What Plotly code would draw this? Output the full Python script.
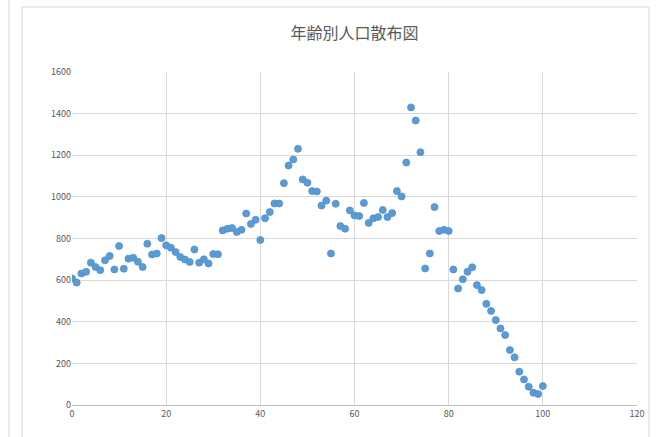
import plotly.graph_objects as go

# Population by single year of age (0-100)
ages = list(range(0, 101))
population = [
    608, 588, 632, 640, 684, 663, 648, 695, 716, 651,
    764, 655, 703, 708, 688, 663, 775, 723, 728, 802,
    767, 756, 735, 711, 699, 687, 747, 684, 700, 680,
    725, 724, 839, 847, 850, 831, 842, 920, 870, 890,
    793, 897, 927, 968, 968, 1066, 1151, 1180, 1231, 1084,
    1068, 1028, 1026, 958, 982, 728, 967, 860, 847, 935,
    911, 908, 971, 875, 897, 903, 937, 903, 922, 1028,
    1002, 1165, 1430, 1367, 1215, 656, 728, 951, 836, 842,
    836, 651, 560, 604, 640, 662, 576, 552, 486, 452,
    408, 368, 336, 264, 229, 160, 123, 88, 59, 53,
    91,
]

x_ticks = [0, 20, 40, 60, 80, 100, 120]
y_ticks = [0, 200, 400, 600, 800, 1000, 1200, 1400, 1600]
title_text = "年齢別人口散布図"

FONT = "Noto Sans CJK JP, Liberation Sans, sans-serif"
GRID = "#d9d9d9"
TEXT = "#595959"

fig = go.Figure(
    go.Scatter(
        x=ages,
        y=population,
        mode="markers",
        marker=dict(size=7, color="#5b9bd5", line=dict(width=0.8, color="#4f8fcb")),
        hoverinfo="x+y",
    )
)

fig.update_layout(
    width=659,
    height=437,
    margin=dict(l=72, r=22, t=72, b=32),
    paper_bgcolor="white",
    plot_bgcolor="white",
    showlegend=False,
    font=dict(family=FONT, color=TEXT, size=9),
    title=dict(
        text=title_text,
        x=0.5,
        xref="paper",
        y=1 - 33 / 437,
        yref="container",
        yanchor="middle",
        xanchor="center",
        font=dict(family=FONT, size=16, color=TEXT),
    ),
    xaxis=dict(
        range=[0, 120],
        tickvals=x_ticks,
        ticktext=[str(v) for v in x_ticks],
        showgrid=True,
        gridcolor=GRID,
        gridwidth=1,
        zeroline=False,
        showline=True,
        linecolor="#bfbfbf",
        linewidth=1,
        ticks="",
        tickfont=dict(size=9, color=TEXT),
        fixedrange=True,
    ),
    yaxis=dict(
        range=[0, 1600],
        tickvals=y_ticks,
        ticktext=[str(v) for v in y_ticks],
        showgrid=True,
        gridcolor=GRID,
        gridwidth=1,
        zeroline=False,
        showline=False,
        ticks="",
        tickfont=dict(size=9, color=TEXT),
        fixedrange=True,
    ),
    shapes=[
        # chart frame
        dict(
            type="rect", xref="paper", yref="paper",
            x0=(22 - 72) / 565, x1=(649 - 72) / 565,
            y0=(405 - 440) / 333, y1=(405 - 7) / 333,
            line=dict(color="#d9d9d9", width=1),
            fillcolor="rgba(0,0,0,0)", layer="below",
        ),
        # edge of the neighbouring chart
        dict(
            type="line", xref="paper", yref="paper",
            x0=(9 - 72) / 565, x1=(9 - 72) / 565,
            y0=(405 - 440) / 333, y1=(405 - 0) / 333,
            line=dict(color="#d9d9d9", width=1), layer="below",
        ),
    ],
)

fig.write_html("out.html")
